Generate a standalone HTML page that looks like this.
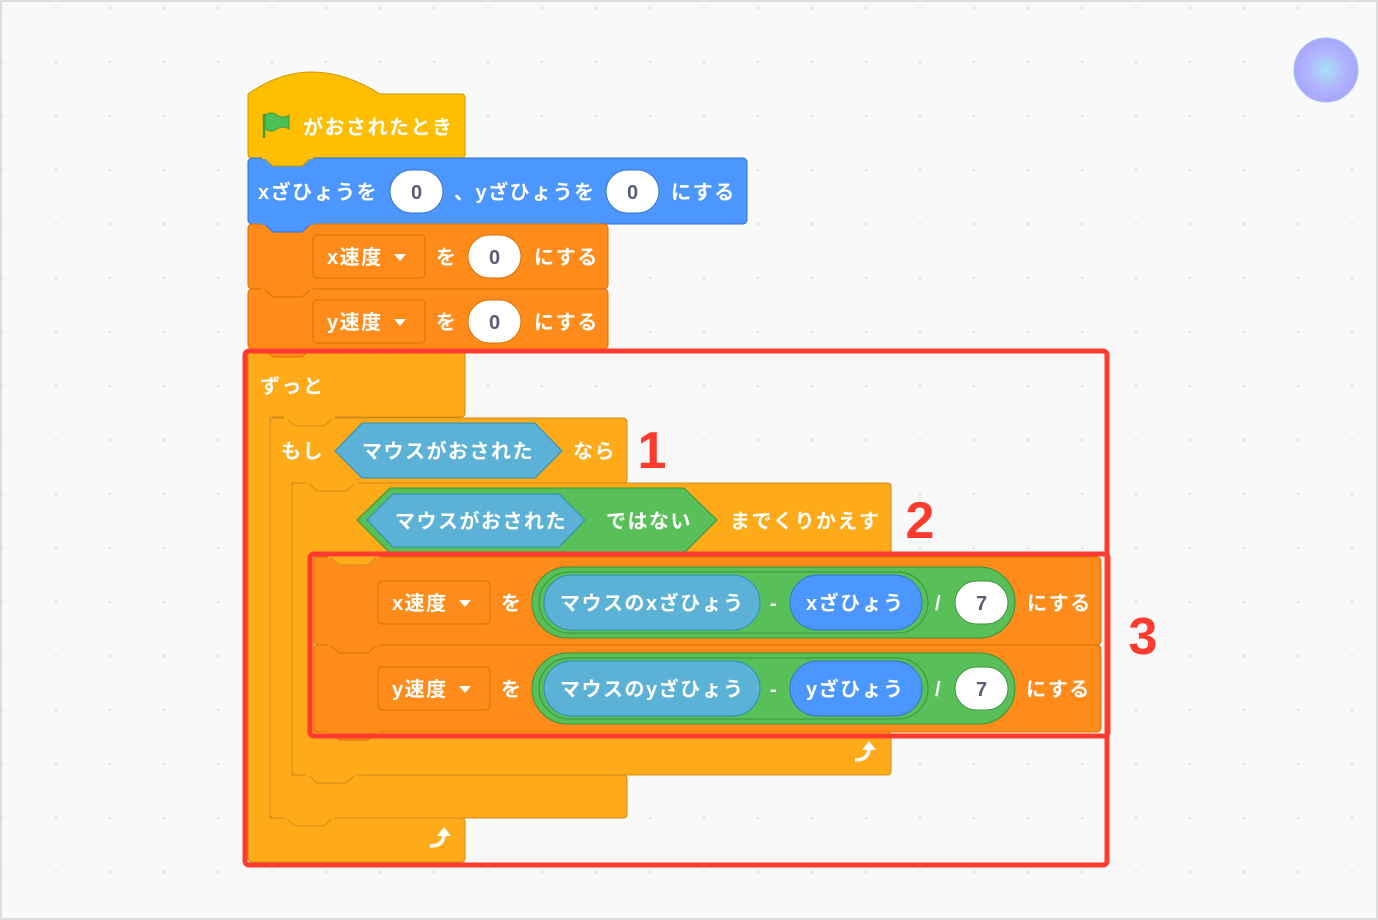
<!DOCTYPE html>
<html><head><meta charset="utf-8"><style>
html,body{margin:0;padding:0;background:#f9f9f9;}
svg{display:block;}
text{font-family:"Liberation Sans","Noto Sans CJK JP",sans-serif;font-weight:bold;}
.w{fill:#fff;font-size:20px;letter-spacing:1.5px;}
.n{fill:#575e75;font-size:20px;font-weight:bold;}
.r{fill:#ff3b30;font-size:52px;}
</style></head><body>
<svg width="1378" height="920" viewBox="0 0 1378 920" xmlns="http://www.w3.org/2000/svg">
<defs>
<pattern id="dots" width="54" height="54" patternUnits="userSpaceOnUse" x="0" y="0">
<circle cx="2" cy="8" r="1.2" fill="#dcdcdc"/>
</pattern>
<radialGradient id="pg" cx="0.5" cy="0.5" r="0.5">
<stop offset="0" stop-color="#a8e0f4"/><stop offset="0.6" stop-color="#b0b4fb"/><stop offset="1" stop-color="#a9a6ff"/>
</radialGradient>
</defs>
<rect x="0" y="0" width="1378" height="920" fill="#f9f9f9"/>
<rect x="0" y="0" width="1378" height="920" fill="url(#dots)"/>
<rect x="1" y="1" width="1376" height="918" fill="none" stroke="#dddddd" stroke-width="2"/>
<circle cx="1326" cy="70" r="32" fill="url(#pg)" stroke="#9fc4f0" stroke-width="1"/>

<!-- forever C -->
<path d="M252,349 H461 q4,0 4,4 V413 q0,4 -4,4 H270 V818 H461 q4,0 4,4 V858 q0,4 -4,4 H252 q-4,0 -4,-4 V353 q0,-4 4,-4 Z" fill="#FFAB19" stroke="#CF8B17"/>
<text class="w" x="260" y="393">ずっと</text>
<path d="M430,846 q14,0 14,-12" fill="none" stroke="#fff" stroke-width="3.5"/>
<polygon points="437,836 444,827 451,836" fill="#fff"/>
<!-- if C -->
<path d="M274,418 H623 q4,0 4,4 V479 q0,4 -4,4 H292 V775 H623 q4,0 4,4 V814 q0,4 -4,4 H274 q-4,0 -4,-4 V422 q0,-4 4,-4 Z" fill="#FFAB19" stroke="#CF8B17"/>
<text class="w" x="281" y="458">もし</text>
<polygon points="335,451 362,423 535,423 562,451 535,478 362,478" fill="#5CB1D6" stroke="#2E8EB8"/>
<text class="w" x="362" y="458">マウスがおされた</text>
<text class="w" x="573" y="458">なら</text>
<!-- repeat until C -->
<path d="M296,483 H887 q4,0 4,4 V553 q0,4 -4,4 H314 V732 H887 q4,0 4,4 V771 q0,4 -4,4 H296 q-4,0 -4,-4 V487 q0,-4 4,-4 Z" fill="#FFAB19" stroke="#CF8B17"/>
<polygon points="357,520 390,488 684,488 717,520 684,553 390,553" fill="#59C059" stroke="#389438"/>
<polygon points="367,520 393,494 559,494 585,520 559,547 393,547" fill="#5CB1D6" stroke="#2E8EB8"/>
<text class="w" x="395" y="528">マウスがおされた</text>
<text class="w" x="606" y="528">ではない</text>
<text class="w" x="730" y="528">までくりかえす</text>
<path d="M855,760 q14,0 14,-12" fill="none" stroke="#fff" stroke-width="3.5"/>
<polygon points="862,750 869,741 876,750" fill="#fff"/>

<!-- hat -->
<path d="M248,94 Q310,50 380,94 H461 q4,0 4,4 V154 q0,4 -4,4 H252 q-4,0 -4,-4 Z" fill="#FFBF00" stroke="#CC9900"/>
<path d="M264,114 V138" stroke="#45993d" stroke-width="2.5"/>
<path d="M265,115 q6,-4 12,0 t12,0 v14 q-6,-4 -12,0 t-12,0 Z" fill="#4CBF56" stroke="#45993d" stroke-width="1"/>
<text class="w" x="303" y="134">がおされたとき</text>

<!-- blue motion -->
<rect x="248" y="158" width="499" height="66" rx="4" fill="#4C97FF" stroke="#3373CC"/>
<text class="w" x="258" y="199">xざひょうを</text>
<rect x="390" y="170" width="53" height="43" rx="21.5" fill="#fff" stroke="#3373CC"/>
<text class="n" x="416.5" y="199" text-anchor="middle">0</text>
<text class="w" x="454" y="199">、yざひょうを</text>
<rect x="606" y="170" width="53" height="43" rx="21.5" fill="#fff" stroke="#3373CC"/>
<text class="n" x="632.5" y="199" text-anchor="middle">0</text>
<text class="w" x="671" y="199">にする</text>

<!-- orange var blocks -->
<rect x="248" y="224" width="360" height="65" rx="4" fill="#FF8C1A" stroke="#DB6E00"/>
<rect x="313" y="235" width="112" height="43" rx="4" fill="#FF8C1A" stroke="#DB6E00"/>
<text class="w" x="327" y="264">x速度</text>
<polygon points="394,254 406,254 400,261" fill="#fff"/>
<text class="w" x="436" y="264">を</text>
<rect x="468" y="235" width="53" height="43" rx="21.5" fill="#fff" stroke="#DB6E00"/>
<text class="n" x="494.5" y="264" text-anchor="middle">0</text>
<text class="w" x="534" y="264">にする</text>

<rect x="248" y="289" width="360" height="60" rx="4" fill="#FF8C1A" stroke="#DB6E00"/>
<rect x="313" y="300" width="112" height="43" rx="4" fill="#FF8C1A" stroke="#DB6E00"/>
<text class="w" x="327" y="329">y速度</text>
<polygon points="394,319 406,319 400,326" fill="#fff"/>
<text class="w" x="436" y="329">を</text>
<rect x="468" y="300" width="53" height="43" rx="21.5" fill="#fff" stroke="#DB6E00"/>
<text class="n" x="494.5" y="329" text-anchor="middle">0</text>
<text class="w" x="534" y="329">にする</text>

<!-- set x -->
<rect x="314" y="557" width="787" height="88" rx="4" fill="#FF8C1A" stroke="#DB6E00"/>
<rect x="378" y="581" width="112" height="43" rx="4" fill="#FF8C1A" stroke="#DB6E00"/>
<text class="w" x="392" y="610">x速度</text>
<polygon points="459,600 471,600 465,607" fill="#fff"/>
<text class="w" x="501" y="610">を</text>
<rect x="532" y="567" width="483" height="71" rx="35.5" fill="#59C059" stroke="#389438"/>
<rect x="539" y="572" width="389" height="61" rx="30.5" fill="#59C059" stroke="#389438"/>
<rect x="544" y="575" width="216" height="55" rx="27.5" fill="#5CB1D6" stroke="#2E8EB8"/>
<text class="w" x="560" y="610">マウスのxざひょう</text>
<text class="w" x="770" y="610">-</text>
<rect x="790" y="575" width="132" height="55" rx="27.5" fill="#4C97FF" stroke="#3373CC"/>
<text class="w" x="806" y="610">xざひょう</text>
<text class="w" x="935" y="610">/</text>
<rect x="955" y="581" width="53" height="43" rx="21.5" fill="#fff" stroke="#389438"/>
<text class="n" x="981.5" y="610" text-anchor="middle">7</text>
<text class="w" x="1027" y="610">にする</text>

<!-- set y -->
<rect x="314" y="645" width="787" height="87" rx="4" fill="#FF8C1A" stroke="#DB6E00"/>
<rect x="378" y="667" width="112" height="43" rx="4" fill="#FF8C1A" stroke="#DB6E00"/>
<text class="w" x="392" y="696">y速度</text>
<polygon points="459,686 471,686 465,693" fill="#fff"/>
<text class="w" x="501" y="696">を</text>
<rect x="532" y="653" width="483" height="71" rx="35.5" fill="#59C059" stroke="#389438"/>
<rect x="539" y="658" width="389" height="61" rx="30.5" fill="#59C059" stroke="#389438"/>
<rect x="544" y="661" width="216" height="55" rx="27.5" fill="#5CB1D6" stroke="#2E8EB8"/>
<text class="w" x="560" y="696">マウスのyざひょう</text>
<text class="w" x="770" y="696">-</text>
<rect x="790" y="661" width="132" height="55" rx="27.5" fill="#4C97FF" stroke="#3373CC"/>
<text class="w" x="806" y="696">yざひょう</text>
<text class="w" x="935" y="696">/</text>
<rect x="955" y="667" width="53" height="43" rx="21.5" fill="#fff" stroke="#389438"/>
<text class="n" x="981.5" y="696" text-anchor="middle">7</text>
<text class="w" x="1026" y="696">にする</text>

<!-- notch tabs -->
<g stroke-width="1">
<polygon points="263,157 273,166 302,166 312,157" fill="#FFBF00" stroke="#CC9900"/>
<rect x="262" y="155" width="51" height="4" fill="#FFBF00"/>
<polygon points="263,223 273,232 302,232 312,223" fill="#4C97FF" stroke="#3373CC"/>
<rect x="262" y="221" width="51" height="4" fill="#4C97FF"/>
<polygon points="263,288 273,297 302,297 312,288" fill="#FF8C1A" stroke="#DB6E00"/>
<rect x="262" y="286" width="51" height="4" fill="#FF8C1A"/>
<polygon points="263,348 273,357 302,357 312,348" fill="#FF8C1A" stroke="#DB6E00"/>
<rect x="262" y="346" width="51" height="4" fill="#FF8C1A"/>
<polygon points="285,417 295,426 324,426 334,417" fill="#FFAB19" stroke="#CF8B17"/>
<rect x="284" y="415" width="51" height="4" fill="#FFAB19"/>
<polygon points="307,482 317,491 346,491 356,482" fill="#FFAB19" stroke="#CF8B17"/>
<rect x="306" y="480" width="51" height="4" fill="#FFAB19"/>
<polygon points="329,556 339,565 368,565 378,556" fill="#FFAB19" stroke="#CF8B17"/>
<rect x="328" y="554" width="51" height="4" fill="#FFAB19"/>
<polygon points="329,644 339,653 368,653 378,644" fill="#FF8C1A" stroke="#DB6E00"/>
<rect x="328" y="642" width="51" height="4" fill="#FF8C1A"/>
<polygon points="329,731 339,740 368,740 378,731" fill="#FF8C1A" stroke="#DB6E00"/>
<rect x="328" y="729" width="51" height="4" fill="#FF8C1A"/>
<polygon points="307,774 317,783 346,783 356,774" fill="#FFAB19" stroke="#CF8B17"/>
<rect x="306" y="772" width="51" height="4" fill="#FFAB19"/>
<polygon points="285,817 295,826 324,826 334,817" fill="#FFAB19" stroke="#CF8B17"/>
<rect x="284" y="815" width="51" height="4" fill="#FFAB19"/>
</g>

<!-- red highlight boxes -->
<rect x="245" y="351" width="862" height="514" rx="4" fill="none" stroke="#FF3B30" stroke-width="5"/>
<rect x="310" y="554" width="798" height="182" rx="4" fill="none" stroke="#FF3B30" stroke-width="5"/>
<text class="r" x="652" y="468" text-anchor="middle">1</text>
<text class="r" x="920" y="538" text-anchor="middle">2</text>
<text class="r" x="1143" y="654" text-anchor="middle">3</text>
</svg>
</body></html>
